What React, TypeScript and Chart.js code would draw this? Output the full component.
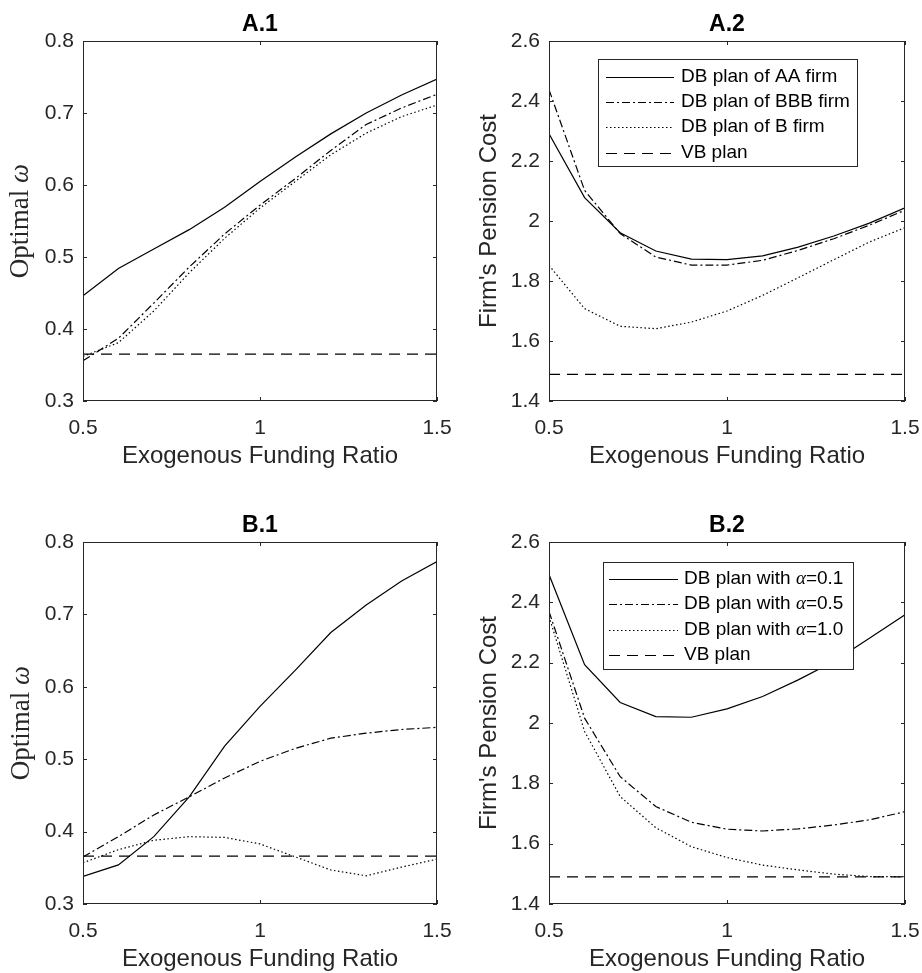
import React, { useEffect, useRef } from "react";
import { Chart, registerables } from "chart.js";

Chart.register(...registerables);

// ---------- data ----------
const fundingRatio = [0.5, 0.6, 0.7, 0.8, 0.9, 1.0, 1.1, 1.2, 1.3, 1.4, 1.5];

// A.1 optimal omega by firm rating
const a1AA = [0.446, 0.484, 0.511, 0.538, 0.569, 0.605, 0.639, 0.671, 0.700, 0.725, 0.747];
const a1BBB = [0.356, 0.387, 0.436, 0.486, 0.532, 0.572, 0.609, 0.648, 0.684, 0.707, 0.726];
const a1B = [0.362, 0.381, 0.425, 0.478, 0.526, 0.568, 0.605, 0.642, 0.672, 0.695, 0.711];
const a1VB = [0.365, 0.365, 0.365, 0.365, 0.365, 0.365, 0.365, 0.365, 0.365, 0.365, 0.365];

// A.2 pension cost by firm rating
const a2AA = [2.291, 2.078, 1.961, 1.900, 1.873, 1.871, 1.884, 1.913, 1.950, 1.993, 2.044];
const a2BBB = [2.438, 2.102, 1.958, 1.880, 1.853, 1.853, 1.869, 1.902, 1.941, 1.986, 2.036];
const a2B = [1.852, 1.708, 1.649, 1.641, 1.663, 1.700, 1.752, 1.811, 1.871, 1.930, 1.978];
const a2VB = [1.489, 1.489, 1.489, 1.489, 1.489, 1.489, 1.489, 1.489, 1.489, 1.489, 1.489];

// B.1 optimal omega by alpha
const b1Alpha01 = [0.338, 0.354, 0.393, 0.448, 0.518, 0.573, 0.623, 0.675, 0.713, 0.746, 0.773];
const b1Alpha05 = [0.365, 0.393, 0.423, 0.448, 0.474, 0.497, 0.515, 0.529, 0.536, 0.541, 0.544];
const b1Alpha10 = [0.357, 0.375, 0.388, 0.393, 0.392, 0.383, 0.365, 0.347, 0.339, 0.351, 0.362];
const b1VB = [0.366, 0.366, 0.366, 0.366, 0.366, 0.366, 0.366, 0.366, 0.366, 0.366, 0.366];

// B.2 pension cost by alpha
const b2Alpha01 = [2.492, 2.193, 2.068, 2.021, 2.019, 2.047, 2.088, 2.143, 2.204, 2.281, 2.359];
const b2Alpha05 = [2.370, 2.016, 1.822, 1.723, 1.671, 1.648, 1.642, 1.649, 1.662, 1.679, 1.706];
const b2Alpha10 = [2.353, 1.972, 1.756, 1.653, 1.590, 1.554, 1.529, 1.513, 1.499, 1.491, 1.491];
const b2VB = [1.490, 1.490, 1.490, 1.490, 1.490, 1.490, 1.490, 1.490, 1.490, 1.490, 1.490];

const xLabel = "Exogenous Funding Ratio";
const costLabel = "Firm's Pension Cost";

// ---------- styling ----------
type LineStyle = "solid" | "dashdot" | "dotted" | "dashed";
const DASH: Record<LineStyle, number[]> = {
  solid: [],
  dashdot: [8, 3, 2, 3],
  dotted: [1.5, 2.5],
  dashed: [11, 7],
};

const SANS = "'Liberation Sans', Arial, Helvetica, sans-serif";
const SERIF = "'Liberation Serif', 'Times New Roman', serif";
const AXIS_COLOR = "#262626";
const LINE_COLOR = "#000000";
const TICK_FONT = 21;
const LABEL_FONT = 24;
const TITLE_FONT = 23;
const LEGEND_FONT = 19;

type Part = { text: string; italicSerif?: boolean; serif?: boolean };

interface Series {
  name: Part[];
  values: number[];
  style: LineStyle;
}

interface LegendBox {
  x: number;
  y: number;
  w: number;
  h: number;
  rows: number[];
  lineX0: number;
  lineX1: number;
  textX: number;
}

interface PanelSpec {
  title: string;
  left: number;
  top: number;
  width: number;
  height: number;
  area: { l: number; t: number; r: number; b: number };
  yMin: number;
  yMax: number;
  yStep: number;
  yLabel: Part[];
  yLabelSize: number;
  yLabelX: number;
  series: Series[];
  legend?: LegendBox;
}

const alphaName = (v: string): Part[] => [
  { text: "DB plan with " },
  { text: "α", italicSerif: true },
  { text: "=" + v },
];

const omegaLabel: Part[] = [{ text: "Optimal ", serif: true }, { text: "ω", italicSerif: true }];

const panels: PanelSpec[] = [
  {
    title: "A.1",
    left: 0, top: 0, width: 461, height: 480,
    area: { l: 83, t: 41, r: 437, b: 401 },
    yMin: 0.3, yMax: 0.8, yStep: 0.1,
    yLabel: omegaLabel, yLabelSize: 27, yLabelX: 21,
    series: [
      { name: [{ text: "DB plan of AA firm" }], values: a1AA, style: "solid" },
      { name: [{ text: "DB plan of BBB firm" }], values: a1BBB, style: "dashdot" },
      { name: [{ text: "DB plan of B firm" }], values: a1B, style: "dotted" },
      { name: [{ text: "VB plan" }], values: a1VB, style: "dashed" },
    ],
  },
  {
    title: "A.2",
    left: 461, top: 0, width: 461, height: 480,
    area: { l: 88, t: 41, r: 444, b: 401 },
    yMin: 1.4, yMax: 2.6, yStep: 0.2,
    yLabel: [{ text: costLabel }], yLabelSize: LABEL_FONT, yLabelX: 28,
    series: [
      { name: [{ text: "DB plan of AA firm" }], values: a2AA, style: "solid" },
      { name: [{ text: "DB plan of BBB firm" }], values: a2BBB, style: "dashdot" },
      { name: [{ text: "DB plan of B firm" }], values: a2B, style: "dotted" },
      { name: [{ text: "VB plan" }], values: a2VB, style: "dashed" },
    ],
    legend: { x: 137, y: 59, w: 259, h: 107, rows: [77, 102, 127, 153], lineX0: 145, lineX1: 213, textX: 220 },
  },
  {
    title: "B.1",
    left: 0, top: 480, width: 461, height: 493,
    area: { l: 83, t: 62, r: 437, b: 424 },
    yMin: 0.3, yMax: 0.8, yStep: 0.1,
    yLabel: omegaLabel, yLabelSize: 27, yLabelX: 22,
    series: [
      { name: alphaName("0.1"), values: b1Alpha01, style: "solid" },
      { name: alphaName("0.5"), values: b1Alpha05, style: "dashdot" },
      { name: alphaName("1.0"), values: b1Alpha10, style: "dotted" },
      { name: [{ text: "VB plan" }], values: b1VB, style: "dashed" },
    ],
  },
  {
    title: "B.2",
    left: 461, top: 480, width: 461, height: 493,
    area: { l: 88, t: 62, r: 444, b: 424 },
    yMin: 1.4, yMax: 2.6, yStep: 0.2,
    yLabel: [{ text: costLabel }], yLabelSize: LABEL_FONT, yLabelX: 28,
    series: [
      { name: alphaName("0.1"), values: b2Alpha01, style: "solid" },
      { name: alphaName("0.5"), values: b2Alpha05, style: "dashdot" },
      { name: alphaName("1.0"), values: b2Alpha10, style: "dotted" },
      { name: [{ text: "VB plan" }], values: b2VB, style: "dashed" },
    ],
    legend: { x: 142, y: 82, w: 250, h: 107, rows: [99, 124, 150, 175], lineX0: 148, lineX1: 217, textX: 223 },
  },
];

// tick text: shortest form, e.g. 1 rather than 1.0
const formatTick = (v: number | string) => String(Number(Number(v).toFixed(3)));

// ---------- drawing helpers ----------
function partFont(p: Part, size: number): string {
  if (p.italicSerif) return `italic ${size}px ${SERIF}`;
  if (p.serif) return `${size}px ${SERIF}`;
  return `${size}px ${SANS}`;
}

function measureParts(ctx: CanvasRenderingContext2D, parts: Part[], size: number): number {
  let w = 0;
  for (const p of parts) {
    ctx.font = partFont(p, size);
    w += ctx.measureText(p.text).width;
  }
  return w;
}

function drawParts(ctx: CanvasRenderingContext2D, parts: Part[], size: number, x: number, y: number) {
  let cx = x;
  ctx.textAlign = "left";
  ctx.textBaseline = "middle";
  for (const p of parts) {
    ctx.font = partFont(p, size);
    ctx.fillText(p.text, cx, y);
    cx += ctx.measureText(p.text).width;
  }
}

function makeFramePlugin(spec: PanelSpec) {
  return {
    id: "matlabFrame",
    afterDraw(chart: Chart) {
      const ctx = chart.ctx;
      const { left, right, top, bottom } = chart.chartArea;
      const xs = chart.scales.x;
      const ys = chart.scales.y;
      ctx.save();

      // axes box
      ctx.strokeStyle = AXIS_COLOR;
      ctx.lineWidth = 1;
      ctx.setLineDash([]);
      ctx.strokeRect(left + 0.5, top + 0.5, right - left - 1, bottom - top - 1);

      // inward tick marks on all four sides
      const tl = 4;
      ctx.beginPath();
      for (const t of xs.ticks) {
        const px = Math.round(xs.getPixelForValue(t.value)) + 0.5;
        ctx.moveTo(px, bottom);
        ctx.lineTo(px, bottom - tl);
        ctx.moveTo(px, top);
        ctx.lineTo(px, top + tl);
      }
      for (const t of ys.ticks) {
        const py = Math.round(ys.getPixelForValue(t.value)) + 0.5;
        ctx.moveTo(left, py);
        ctx.lineTo(left + tl, py);
        ctx.moveTo(right, py);
        ctx.lineTo(right - tl, py);
      }
      ctx.stroke();

      // title
      ctx.fillStyle = "#000";
      ctx.font = `bold ${TITLE_FONT}px ${SANS}`;
      ctx.textAlign = "center";
      ctx.textBaseline = "middle";
      ctx.fillText(spec.title, (left + right) / 2, top - 16);

      // x axis label
      ctx.fillStyle = AXIS_COLOR;
      ctx.font = `${LABEL_FONT}px ${SANS}`;
      ctx.fillText(xLabel, (left + right) / 2, bottom + 55);

      // y axis label (rotated)
      ctx.save();
      ctx.translate(spec.yLabelX, (top + bottom) / 2);
      ctx.rotate(-Math.PI / 2);
      const yw = measureParts(ctx, spec.yLabel, spec.yLabelSize);
      drawParts(ctx, spec.yLabel, spec.yLabelSize, -yw / 2, 0);
      ctx.restore();

      // legend
      const lg = spec.legend;
      if (lg) {
        ctx.fillStyle = "#fff";
        ctx.fillRect(lg.x, lg.y, lg.w, lg.h);
        ctx.strokeStyle = AXIS_COLOR;
        ctx.lineWidth = 1;
        ctx.strokeRect(lg.x + 0.5, lg.y + 0.5, lg.w, lg.h);
        spec.series.forEach((s, i) => {
          const ry = Math.round(lg.rows[i]) + 0.5;
          ctx.strokeStyle = LINE_COLOR;
          ctx.lineWidth = 1.2;
          ctx.setLineDash(DASH[s.style]);
          ctx.beginPath();
          ctx.moveTo(lg.lineX0, ry);
          ctx.lineTo(lg.lineX1, ry);
          ctx.stroke();
          ctx.setLineDash([]);
          ctx.fillStyle = "#000";
          drawParts(ctx, s.name, LEGEND_FONT, lg.textX, lg.rows[i]);
        });
      }
      ctx.restore();
    },
  };
}

// ---------- chart panel ----------
function Panel({ spec }: { spec: PanelSpec }) {
  const ref = useRef<HTMLCanvasElement | null>(null);

  useEffect(() => {
    const canvas = ref.current;
    if (!canvas) return;
    const { l, t, r, b } = spec.area;
    const chart = new Chart(canvas, {
      type: "line",
      data: {
        datasets: spec.series.map((s) => ({
          label: s.name.map((p) => p.text).join(""),
          data: fundingRatio.map((x, i) => ({ x, y: s.values[i] })),
          borderColor: LINE_COLOR,
          borderWidth: 1.2,
          borderDash: DASH[s.style],
          borderCapStyle: "butt" as const,
          pointRadius: 0,
          tension: 0,
          fill: false,
        })),
      },
      options: {
        responsive: false,
        animation: false,
        devicePixelRatio: 1,
        layout: { padding: { left: 0, top: t, right: spec.width - r, bottom: 0 } },
        plugins: {
          legend: { display: false },
          tooltip: { enabled: false },
          title: { display: false },
        },
        scales: {
          x: {
            type: "linear",
            min: 0.5,
            max: 1.5,
            grid: { display: false, drawTicks: false },
            border: { display: false },
            ticks: {
              stepSize: 0.5,
              padding: 15,
              color: AXIS_COLOR,
              font: { family: SANS, size: TICK_FONT },
              maxRotation: 0,
              callback: (v: number | string) => formatTick(v),
            },
            afterFit: (scale: any) => {
              scale.height = spec.height - b;
              // the plot box is placed by the layout padding alone
              scale.paddingLeft = 0;
              scale.paddingRight = 0;
            },
          },
          y: {
            type: "linear",
            min: spec.yMin,
            max: spec.yMax,
            grid: { display: false, drawTicks: false },
            border: { display: false },
            ticks: {
              stepSize: spec.yStep,
              padding: 9,
              color: AXIS_COLOR,
              font: { family: SANS, size: TICK_FONT },
              callback: (v: number | string) => formatTick(v),
            },
            afterFit: (scale: any) => {
              scale.width = l;
              scale.paddingTop = 0;
              scale.paddingBottom = 0;
            },
          },
        },
      },
      plugins: [makeFramePlugin(spec)],
    });
    return () => chart.destroy();
  }, [spec]);

  return (
    <canvas
      ref={ref}
      width={spec.width}
      height={spec.height}
      style={{
        position: "absolute",
        left: spec.left,
        top: spec.top,
        width: spec.width,
        height: spec.height,
      }}
    />
  );
}

export default function App() {
  return (
    <div
      style={{
        position: "absolute",
        left: 0,
        top: 0,
        width: 922,
        height: 973,
        background: "#fff",
        overflow: "hidden",
      }}
    >
      {panels.map((p) => (
        <Panel key={p.title} spec={p} />
      ))}
    </div>
  );
}
